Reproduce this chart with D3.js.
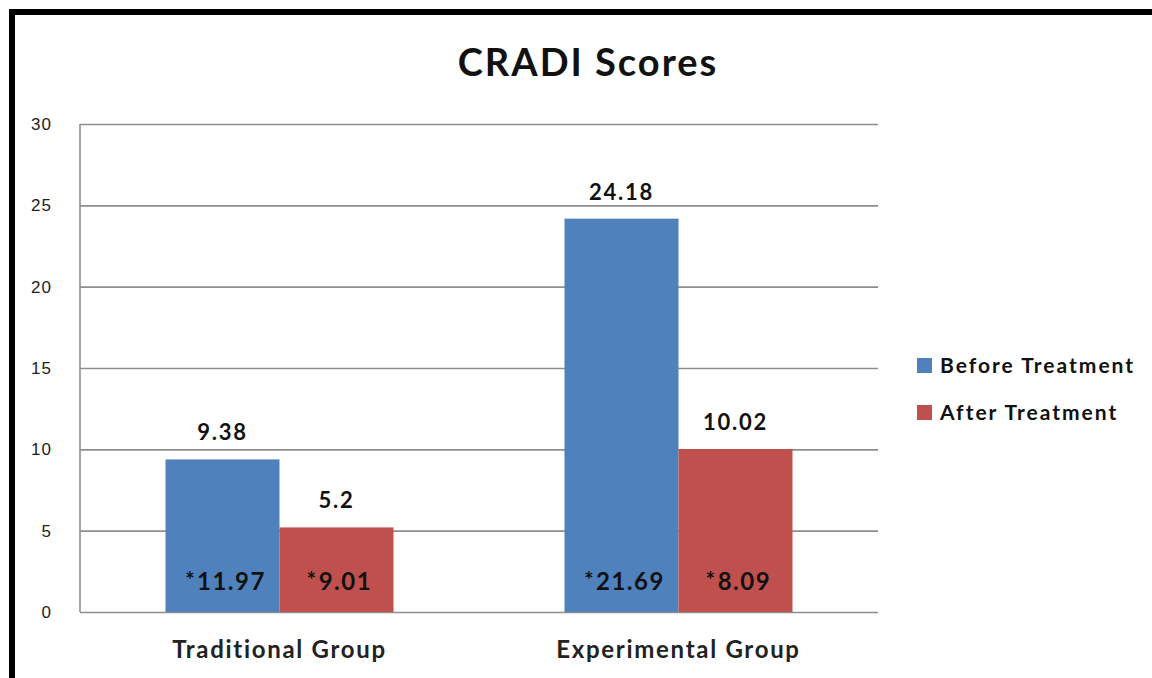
<!DOCTYPE html>
<html lang="en">
<head>
    <meta charset="UTF-8">
    <title>CRADI Scores</title>
    <script src="https://d3js.org/d3.v7.min.js"></script>
    <style>
        body {
            margin: 0;
            padding: 0;
            background: white;
            font-family: 'Lato', 'Open Sans', sans-serif;
        }
        svg {
            display: block;
        }
        .grid line {
            stroke: #8e8e8e;
            stroke-width: 1.6;
        }
        .grid path {
            display: none;
        }
        .y-axis text {
            font-size: 17px;
            letter-spacing: 1px;
            fill: #222;
        }
        .value-label {
            font-size: 22px;
            font-weight: 700;
            letter-spacing: 1.7px;
            fill: #111;
            text-anchor: middle;
        }
        .inner-label {
            font-size: 24px;
            font-weight: 700;
            letter-spacing: 1.5px;
            fill: #111;
            text-anchor: middle;
        }
        .x-label {
            font-size: 24px;
            font-weight: 700;
            letter-spacing: 1.7px;
            fill: #222;
            text-anchor: middle;
        }
        .legend text {
            font-size: 21px;
            font-weight: 700;
            letter-spacing: 2px;
            fill: #111;
        }
    </style>
</head>
<body>
<div id="chart"></div>
<script>
    // data
    const groups = ["Traditional Group", "Experimental Group"];
    const seriesNames = ["Before Treatment", "After Treatment"];
    const beforeValues = [9.38, 24.18];
    const afterValues = [5.2, 10.02];
    const beforeNotes = ["11.97", "21.69"];
    const afterNotes = ["9.01", "8.09"];
    const yTicks = [0, 5, 10, 15, 20, 25, 30];
    const colors = ["#4f81bd", "#c0504d"];

    const width = 1152, height = 678;
    const margin = { top: 124, right: 274, bottom: 66, left: 80 };

    const svg = d3.select("#chart")
        .append("svg")
        .attr("width", width)
        .attr("height", height);

    // outer frame (runs past the right and bottom edges)
    svg.append("rect")
        .attr("x", 12)
        .attr("y", 12)
        .attr("width", width + 100)
        .attr("height", height + 100)
        .attr("fill", "none")
        .attr("stroke", "#000")
        .attr("stroke-width", 6);

    svg.append("text")
        .attr("x", 588)
        .attr("y", 76)
        .attr("text-anchor", "middle")
        .style("font-size", "38px")
        .style("font-weight", "700")
        .style("letter-spacing", "2px")
        .style("fill", "#111")
        .text("CRADI Scores");

    const x0 = d3.scaleBand()
        .domain(groups)
        .range([margin.left, width - margin.right])
        .padding(0);

    const x1 = d3.scaleBand()
        .domain(seriesNames)
        .range([0, x0.bandwidth()])
        .paddingInner(0)
        .paddingOuter(0.75);

    const y = d3.scaleLinear()
        .domain([0, 30])
        .range([height - margin.bottom, margin.top]);

    // gridlines
    svg.append("g")
        .attr("class", "grid")
        .attr("transform", `translate(${margin.left},0)`)
        .call(d3.axisLeft(y).tickValues(yTicks).tickSize(-(width - margin.left - margin.right)).tickFormat(""));

    // left axis line
    svg.append("line")
        .attr("x1", margin.left).attr("x2", margin.left)
        .attr("y1", y(30)).attr("y2", y(0))
        .attr("stroke", "#8e8e8e")
        .attr("stroke-width", 1.6);

    const yAxis = svg.append("g")
        .attr("class", "y-axis")
        .attr("transform", `translate(${margin.left - 25},0)`)
        .call(d3.axisLeft(y).tickValues(yTicks).tickSize(0));
    yAxis.select(".domain").remove();

    const rows = groups.map((g, i) => ({
        group: g,
        items: [
            { name: seriesNames[0], value: beforeValues[i], note: beforeNotes[i], color: colors[0] },
            { name: seriesNames[1], value: afterValues[i], note: afterNotes[i], color: colors[1] }
        ]
    }));

    const groupG = svg.selectAll("g.group")
        .data(rows)
        .enter().append("g")
        .attr("class", "group")
        .attr("transform", d => `translate(${x0(d.group)},0)`);

    const bar = groupG.selectAll("g.bar")
        .data(d => d.items)
        .enter().append("g")
        .attr("class", "bar");

    bar.append("rect")
        .attr("x", d => x1(d.name))
        .attr("y", d => y(d.value))
        .attr("width", x1.bandwidth())
        .attr("height", d => y(0) - y(d.value))
        .attr("fill", d => d.color);

    bar.append("text")
        .attr("class", "value-label")
        .attr("x", d => x1(d.name) + x1.bandwidth() / 2)
        .attr("y", d => y(d.value) - 19)
        .text(d => d.value);

    // "*" note inside the bar, asterisk slightly raised
    const inner = bar.append("text")
        .attr("class", "inner-label")
        .attr("x", d => x1(d.name) + x1.bandwidth() / 2 + 3)
        .attr("y", y(0) - 22);
    inner.append("tspan")
        .style("font-size", "22px")
        .attr("dy", "-2")
        .text("*");
    inner.append("tspan")
        .attr("dy", "2")
        .attr("dx", "1")
        .text(d => d.note);

    svg.selectAll("text.x-label")
        .data(groups)
        .enter().append("text")
        .attr("class", "x-label")
        .attr("x", d => x0(d) + x0.bandwidth() / 2)
        .attr("y", 658)
        .text(d => d);

    // legend
    const legend = svg.append("g")
        .attr("class", "legend")
        .attr("transform", "translate(917,358)");

    const li = legend.selectAll("g")
        .data(seriesNames)
        .enter().append("g")
        .attr("transform", (d, i) => `translate(0,${i * 47})`);

    li.append("rect")
        .attr("width", 15)
        .attr("height", 15)
        .attr("fill", (d, i) => colors[i]);

    li.append("text")
        .attr("x", 23)
        .attr("y", 15)
        .text(d => d);
</script>
</body>
</html>
